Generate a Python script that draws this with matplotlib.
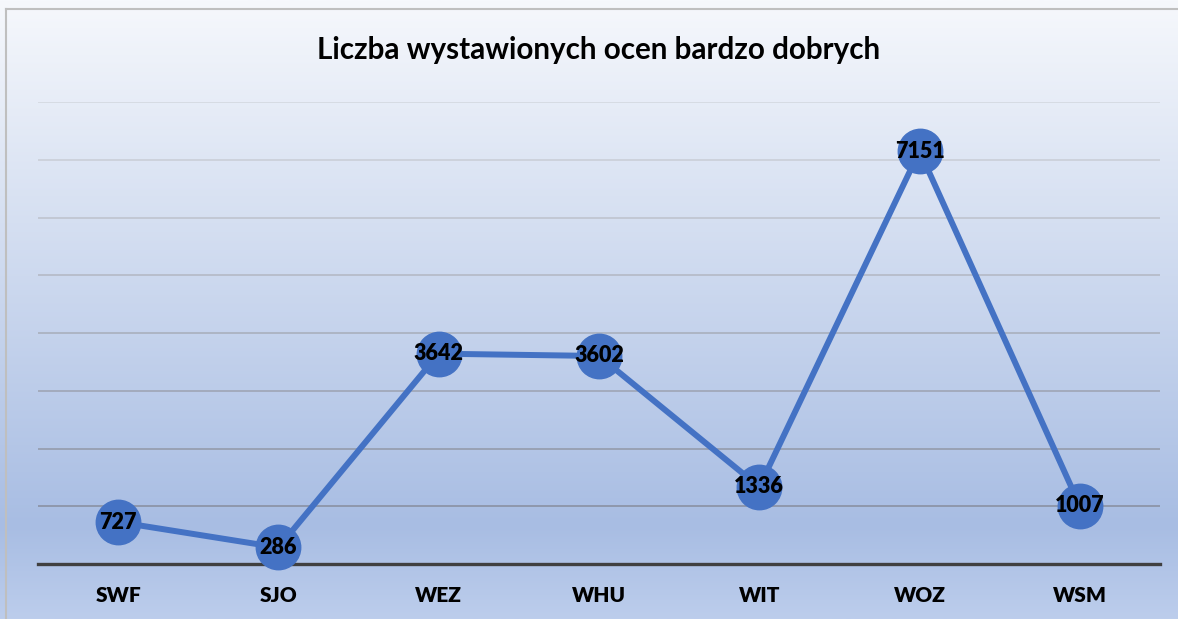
import numpy as np
import matplotlib.pyplot as plt
from matplotlib.colors import LinearSegmentedColormap
from matplotlib.lines import Line2D

categories = ['SWF', 'SJO', 'WEZ', 'WHU', 'WIT', 'WOZ', 'WSM']
values = [727, 286, 3642, 3602, 1336, 7151, 1007]

plt.rcParams['font.family'] = ['Lato', 'DejaVu Sans']

fig = plt.figure(figsize=(11.78, 6.19), dpi=100)

# tło z gradientem
bg = fig.add_axes([0, 0, 1, 1], zorder=0)
cmap = LinearSegmentedColormap.from_list(
    'bg', [(0, '#f6f8fc'), (0.85, '#a8bde3'), (1, '#bccdec')])
grad = np.linspace(0, 1, 256).reshape(-1, 1)
bg.imshow(grad, aspect='auto', cmap=cmap, extent=[0, 1, 0, 1], origin='upper')
bg.axis('off')

# ramka wykresu
fig.add_artist(Line2D([6 / 1178, 6 / 1178], [0, 1 - 9 / 619], transform=fig.transFigure,
                      color='#bfbfbf', lw=1.5))
fig.add_artist(Line2D([6 / 1178, 1], [1 - 9 / 619, 1 - 9 / 619], transform=fig.transFigure,
                      color='#bfbfbf', lw=1.5))

ax = fig.add_axes([38 / 1178, 1 - 564 / 619, 1122 / 1178, 462 / 619], zorder=1)
ax.patch.set_alpha(0)
x = np.arange(len(categories))
ax.set_xlim(-0.5, len(categories) - 0.5)
ax.set_ylim(0, 8000)

# linie siatki: jaśniejsze u góry, ciemniejsze na dole
gcm = LinearSegmentedColormap.from_list('g', ['#7c8394', '#d2d6de'])
for v in range(1000, 8001, 1000):
    ax.axhline(v, color=gcm(v / 8000), lw=1.1, zorder=1)
ax.axhline(0, color='#404040', lw=2.4, zorder=2, clip_on=False)

ax.plot(x, values, color='#4472c4', lw=4.3, marker='o', markersize=32,
        markerfacecolor='#4472c4', markeredgecolor='#4472c4', zorder=3,
        solid_capstyle='round', clip_on=False)
for xi, v in zip(x, values):
    ax.text(xi, v, f'{v}', ha='center', va='center', fontsize=15.5,
            fontweight='heavy', color='black', zorder=4)

ax.set_xticks(x)
ax.set_xticklabels(categories, fontsize=15, fontweight='heavy')
ax.tick_params(axis='x', length=0, pad=16)
ax.set_yticks([])
for s in ax.spines.values():
    s.set_visible(False)

fig.text(599 / 1178, 1 - 50 / 619, 'Liczba wystawionych ocen bardzo dobrych',
         ha='center', va='center', fontsize=21.3, fontweight='bold')

fig.savefig('out.png', dpi=100)
